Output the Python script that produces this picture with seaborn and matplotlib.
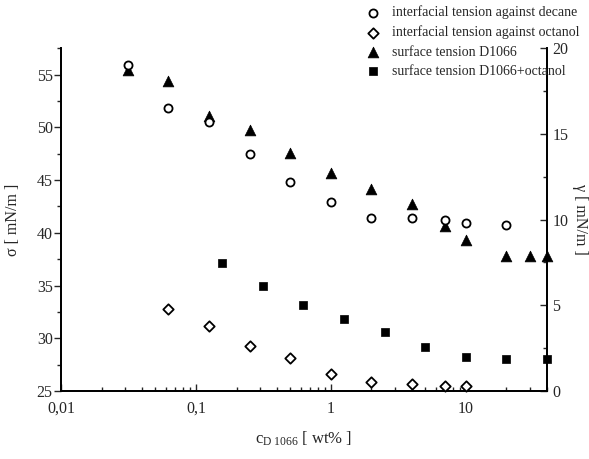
import numpy as np
import pandas as pd
import matplotlib
matplotlib.use("Agg")
import matplotlib.pyplot as plt
import seaborn as sns
from matplotlib.ticker import FuncFormatter, MultipleLocator, LogLocator

# interfacial tension against decane (gamma, right axis)
c_decane = [0.03125, 0.0625, 0.125, 0.25, 0.5, 1, 2, 4, 7, 10, 20]
gamma_decane = [19.0, 16.5, 15.7, 13.8, 12.2, 11.0, 10.1, 10.1, 10.0, 9.8, 9.7]

# interfacial tension against octanol (gamma, right axis)
c_octanol = [0.0625, 0.125, 0.25, 0.5, 1, 2, 4, 7, 10]
gamma_octanol = [4.8, 3.8, 2.6, 1.9, 1.0, 0.5, 0.4, 0.3, 0.3]

# surface tension D1066 (sigma, left axis)
c_surf = [0.03125, 0.0625, 0.125, 0.25, 0.5, 1, 2, 4, 7, 10, 20, 30, 40]
sigma_surf = [55.4, 54.4, 51.1, 49.7, 47.6, 45.7, 44.2, 42.7, 40.6, 39.3, 37.8, 37.8, 37.8]

# surface tension D1066+octanol (sigma, left axis)
c_surf_oct = [0.156, 0.3125, 0.625, 1.25, 2.5, 5, 10, 20, 40]
sigma_surf_oct = [37.1, 35.0, 33.2, 31.8, 30.6, 29.2, 28.2, 28.0, 28.0]

labels = ["interfacial tension against decane",
          "interfacial tension against octanol",
          "surface tension D1066",
          "surface tension D1066+octanol"]

sns.set_style("ticks")
plt.rcParams["font.family"] = ["Liberation Serif", "DejaVu Serif"]
plt.rcParams["mathtext.fontset"] = "custom"
plt.rcParams["mathtext.rm"] = "Liberation Serif"
plt.rcParams["mathtext.it"] = "Liberation Serif:italic"

fig = plt.figure(figsize=(5.89, 4.59), dpi=100)
ax = fig.add_axes([0.1036, 0.148, 0.8251, 0.747])
ax2 = ax.twinx()

# left axis: surface tensions
sns.scatterplot(x=c_surf, y=sigma_surf, ax=ax, marker="^", s=60,
                color="black", edgecolor="black", linewidth=0.5,
                clip_on=False, label=labels[2], legend=False, zorder=3)
sns.scatterplot(x=c_surf_oct, y=sigma_surf_oct, ax=ax, marker="s", s=32,
                color="black", edgecolor="black", linewidth=0.5,
                clip_on=False, label=labels[3], legend=False, zorder=3)

# right axis: interfacial tensions
sns.scatterplot(x=c_decane, y=gamma_decane, ax=ax2, marker="o", s=34,
                facecolor="white", edgecolor="black", linewidth=1.3,
                clip_on=False, label=labels[0], legend=False, zorder=3)
sns.scatterplot(x=c_octanol, y=gamma_octanol, ax=ax2, marker="D", s=28,
                facecolor="white", edgecolor="black", linewidth=1.3,
                clip_on=False, label=labels[1], legend=False, zorder=3)

ax.set_xscale("log")
ax.set_xlim(0.01, 40)
ax.set_ylim(25, 57.5)
ax2.set_ylim(0, 20)

ax.xaxis.set_major_locator(LogLocator(base=10, numticks=10))
ax.xaxis.set_minor_locator(LogLocator(base=10, subs=np.arange(2, 10), numticks=20))
ax.xaxis.set_major_formatter(FuncFormatter(lambda v, p: f"{v:g}".replace(".", ",")))
ax.yaxis.set_major_locator(MultipleLocator(5))
ax.yaxis.set_minor_locator(MultipleLocator(2.5))
ax2.yaxis.set_major_locator(MultipleLocator(5))
ax2.yaxis.set_minor_locator(MultipleLocator(2.5))

ax.tick_params(axis="y", which="major", direction="out", length=5, width=1, labelsize=11.5, pad=1)
ax.tick_params(axis="y", which="minor", direction="out", length=3, width=1)
ax.tick_params(axis="x", which="major", direction="in", length=5, width=1, labelsize=11.5, pad=7)
ax.tick_params(axis="x", which="minor", direction="in", length=3, width=1)
ax2.tick_params(axis="y", which="major", direction="in", length=5, width=1, labelsize=11.5, pad=4)
ax2.tick_params(axis="y", which="minor", direction="in", length=3, width=1)

for a in (ax, ax2):
    a.spines["top"].set_visible(False)
    for s in ("left", "right", "bottom"):
        a.spines[s].set_linewidth(1.3)
        a.spines[s].set_color("black")

ax.set_xlabel(r"c$_{\mathrm{D\ 1066}}$ [ wt% ]", fontsize=12, labelpad=9)
ax.set_ylabel("σ [ mN/m ]", fontsize=11.5, labelpad=11)
ax2.set_ylabel("γ [ mN/m ]", fontsize=11.5, rotation=270, labelpad=14)

h1, l1 = ax.get_legend_handles_labels()
h2, l2 = ax2.get_legend_handles_labels()
fig.legend(h2 + h1, l2 + l1, loc="upper left", bbox_to_anchor=(0.621, 0.988),
           frameon=False, fontsize=10, borderpad=0, borderaxespad=0,
           handlelength=1, handletextpad=0.86, labelspacing=0.45)

fig.savefig("out.png", dpi=100)
